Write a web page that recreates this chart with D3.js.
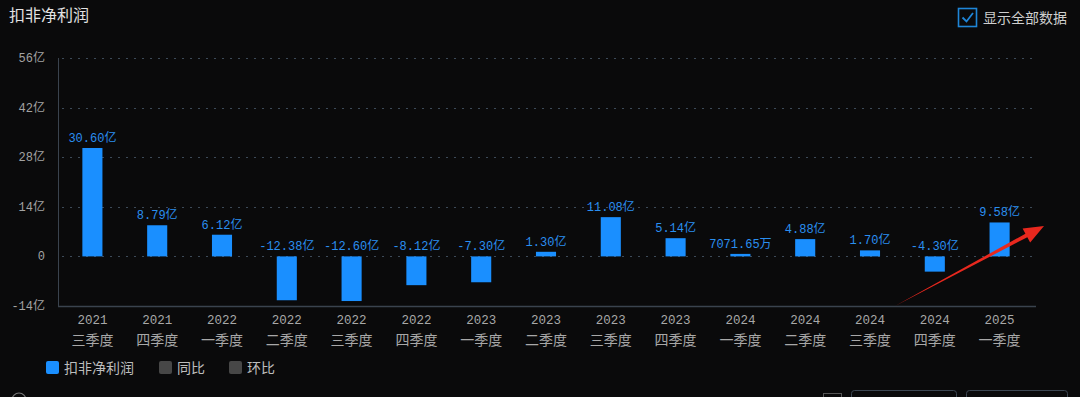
<!DOCTYPE html>
<html><head><meta charset="utf-8">
<script src="https://cdn.jsdelivr.net/npm/d3@7"></script>
<style>
html,body{margin:0;padding:0;background:#0a0a0b;}
svg{display:block;}
</style></head>
<body>
<script>
const years = ["2021","2021","2022","2022","2022","2022","2023","2023","2023","2023","2024","2024","2024","2024","2025"];
const quarters = ["三季度","四季度","一季度","二季度","三季度","四季度","一季度","二季度","三季度","四季度","一季度","二季度","三季度","四季度","一季度"];
const values = [30.60, 8.79, 6.12, -12.38, -12.60, -8.12, -7.30, 1.30, 11.08, 5.14, 0.707165, 4.88, 1.70, -4.30, 9.58];
const valueLabels = ["30.60亿","8.79亿","6.12亿","-12.38亿","-12.60亿","-8.12亿","-7.30亿","1.30亿","11.08亿","5.14亿","7071.65万","4.88亿","1.70亿","-4.30亿","9.58亿"];
const yTicks = [-14, 0, 14, 28, 42, 56];
const yTickLabels = ["-14亿","0","14亿","28亿","42亿","56亿"];
const legendItems = ["扣非净利润","同比","环比"];

const W = 1080, H = 397;
const svg = d3.select("body").append("svg").attr("width", W).attr("height", H)
  .style("background", "#0a0a0b");

const mono = "'Liberation Mono','DejaVu Sans Mono','Noto Sans CJK SC',monospace";
const cjk = "'Noto Sans CJK SC','Noto Sans',sans-serif";

const idx = d3.range(values.length);
const x = d3.scaleBand().domain(idx).range([60, 1032]).paddingInner(0.69).paddingOuter(0.345);
const y = d3.scaleLinear().domain([-14, 56]).range([306, 58]);

// Title
svg.append("text").attr("x", 9).attr("y", 21).text("扣非净利润")
  .attr("fill", "#e2e2e2").attr("font-family", cjk).attr("font-size", 16);

// checkbox
svg.append("rect").attr("x", 958.5).attr("y", 8.5).attr("width", 18).attr("height", 18)
  .attr("fill", "none").attr("stroke", "#1f86d8").attr("stroke-width", 1.6);
svg.append("path").attr("d", "M962.5,17.5 L966.5,21.5 L973,13")
  .attr("fill", "none").attr("stroke", "#1f86d8").attr("stroke-width", 1.8);
svg.append("text").attr("x", 983).attr("y", 23).text("显示全部数据")
  .attr("fill", "#cfcfcf").attr("font-family", cjk).attr("font-size", 14);

// gridlines
svg.append("g").selectAll("line").data(yTicks.filter(t => t !== -14)).join("line")
  .attr("x1", 62).attr("x2", 1034)
  .attr("y1", d => Math.round(y(d)) + 0.5).attr("y2", d => Math.round(y(d)) + 0.5)
  .attr("stroke", "#3d4a58").attr("stroke-dasharray", "2,6");

// axes lines
svg.append("line").attr("x1", 58.5).attr("x2", 58.5).attr("y1", 58).attr("y2", 306)
  .attr("stroke", "#3a434e").attr("stroke-width", 1);
svg.append("line").attr("x1", 58).attr("x2", 1036).attr("y1", 306.5).attr("y2", 306.5)
  .attr("stroke", "#3a434e").attr("stroke-width", 1.5);

// y tick labels
svg.append("g").selectAll("text").data(yTicks).join("text")
  .attr("x", 45).attr("y", d => y(d) + 4).attr("text-anchor", "end")
  .text((d, i) => yTickLabels[i])
  .attr("fill", "#a3a3a3").attr("font-family", mono).attr("font-size", 12);

// bars
svg.append("g").selectAll("rect").data(idx).join("rect")
  .attr("x", i => x(i)).attr("width", x.bandwidth())
  .attr("y", i => Math.min(y(values[i]), y(0)))
  .attr("height", i => Math.max(1.5, Math.abs(y(values[i]) - y(0))))
  .attr("fill", "#1a8fff");

// value labels
svg.append("g").selectAll("text").data(idx).join("text")
  .attr("x", i => x(i) + x.bandwidth() / 2)
  .attr("y", i => Math.min(y(values[i]), y(0)) - 6)
  .attr("text-anchor", "middle")
  .text(i => valueLabels[i])
  .attr("fill", "#2a8ff0").attr("font-family", mono).attr("font-size", 12);

// x labels
const xl = svg.append("g").selectAll("g").data(idx).join("g")
  .attr("transform", i => `translate(${x(i) + x.bandwidth() / 2},0)`);
xl.append("text").attr("y", 324).attr("text-anchor", "middle").text(i => years[i])
  .attr("fill", "#a8a8a8").attr("font-family", mono).attr("font-size", 12.5);
xl.append("text").attr("y", 345).attr("text-anchor", "middle").text(i => quarters[i])
  .attr("fill", "#a8a8a8").attr("font-family", cjk).attr("font-size", 14);

// legend
const legX = [46, 159, 229];
const legCol = ["#1a8fff", "#474747", "#474747"];
const lg = svg.append("g").selectAll("g").data(legendItems).join("g")
  .attr("transform", (d, i) => `translate(${legX[i]},361)`);
lg.append("rect").attr("width", 13).attr("height", 13).attr("rx", 2)
  .attr("fill", (d, i) => legCol[i]);
lg.append("text").attr("x", 18).attr("y", 12).text(d => d)
  .attr("fill", "#bdbdbd").attr("font-family", cjk).attr("font-size", 14);

// bottom cut-off controls
svg.append("circle").attr("cx", 19).attr("cy", 400).attr("r", 7)
  .attr("fill", "none").attr("stroke", "#777").attr("stroke-width", 1.2);
svg.append("rect").attr("x", 823.5).attr("y", 393.5).attr("width", 18).attr("height", 18)
  .attr("fill", "none").attr("stroke", "#555");
svg.append("rect").attr("x", 851.5).attr("y", 390.5).attr("width", 105).attr("height", 30).attr("rx", 3)
  .attr("fill", "none").attr("stroke", "#3c4652");
svg.append("rect").attr("x", 966.5).attr("y", 390.5).attr("width", 101).attr("height", 30).attr("rx", 3)
  .attr("fill", "none").attr("stroke", "#3c4652");

// red arrow annotation (tapered)
const x0 = 895, y0 = 306, x1 = 1044, y1 = 226;
const ang = Math.atan2(y1 - y0, x1 - x0);
const ux = Math.cos(ang), uy = Math.sin(ang), nx = -uy, ny = ux;
const headLen = 20, headW = 8, shaftW = 2;
const bx = x1 - ux * headLen, by = y1 - uy * headLen;
const pts = [
  [x0, y0],
  [bx + nx * shaftW, by + ny * shaftW],
  [bx + nx * headW, by + ny * headW],
  [x1, y1],
  [bx - nx * headW, by - ny * headW],
  [bx - nx * shaftW, by - ny * shaftW]
];
svg.append("path").attr("d", d3.line()(pts) + "Z").attr("fill", "#e8281e");
</script>
</body></html>
